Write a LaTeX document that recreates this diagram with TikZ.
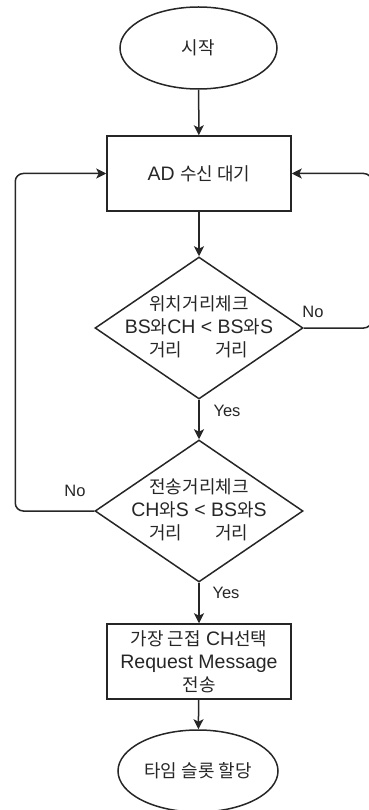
\documentclass[tikz,border=0pt]{standalone}
\usepackage{fontspec}
\setmainfont{Liberation Sans}
\newfontfamily\krfont{Noto Sans CJK KR}[Scale=0.92]
\newcommand{\K}[1]{{\krfont #1}}
\usetikzlibrary{shapes.geometric,arrows.meta}
\begin{document}
\begin{tikzpicture}[x=1pt,y=-1pt,
  every node/.style={font=\fontsize{19.5}{23}\selectfont, text=black!85},
  lineshape/.style={draw=black!85, line width=1.5pt},
  term/.style={lineshape, ellipse, minimum width=157pt, minimum height=82pt, inner sep=0pt},
  proc/.style={lineshape, rectangle, minimum width=184pt, minimum height=75pt, inner sep=0pt, align=center},
  decis/.style={lineshape, diamond, minimum width=208pt, minimum height=142pt, inner sep=0pt},
  txt/.style={align=center, inner sep=0pt},
  lbl/.style={font=\fontsize{16.5}{18}\selectfont, inner sep=0pt},
  arr/.style={draw=black!85, line width=1.5pt, -{Stealth[length=10pt,width=10pt,inset=2.5pt]}}
]
\useasboundingbox (0,0) rectangle (368,810);
\node[term] (start) at (198.5,48) {\K{시작}};
\node[proc] (ad) at (199,173.5) {AD \K{수신 대기}};
\node[decis] (d1) at (199,328) {};
\node[txt] (t1) at (199,327) {\K{위치거리체크}\\BS\K{와}CH < BS\K{와}S\\\K{거리}\hspace{33pt}\K{거리}};
\node[decis] (d2) at (199,511) {};
\node[txt] (t2) at (199,510) {\K{전송거리체크}\\CH\K{와}S < BS\K{와}S\\\K{거리}\hspace{33pt}\K{거리}};
\node[proc] (b2) at (199,661.5) {\K{가장 근접} CH\K{선택}\\Request Message\\\K{전송}};
\node[term, minimum width=160pt] (end) at (198,771) {\K{타임 슬롯 할당}};

\draw[arr] (start) -- (ad);
\draw[arr] (ad) -- (d1);
\draw[arr] (d1) -- (d2);
\draw[arr] (d2) -- (b2);
\draw[arr] (b2) -- (end);
\draw[arr, rounded corners=8pt] (d1.east) -- ++(68,0) |- (ad.east);
\draw[arr, rounded corners=8pt] (d2.west) -- ++(-79,0) |- (ad.west);

\node[lbl] (no1) at (313,312) {No};
\node[lbl] (yes1) at (227,411) {Yes};
\node[lbl] (no2) at (75,491) {No};
\node[lbl] (yes2) at (226,593) {Yes};
\end{tikzpicture}
\end{document}
